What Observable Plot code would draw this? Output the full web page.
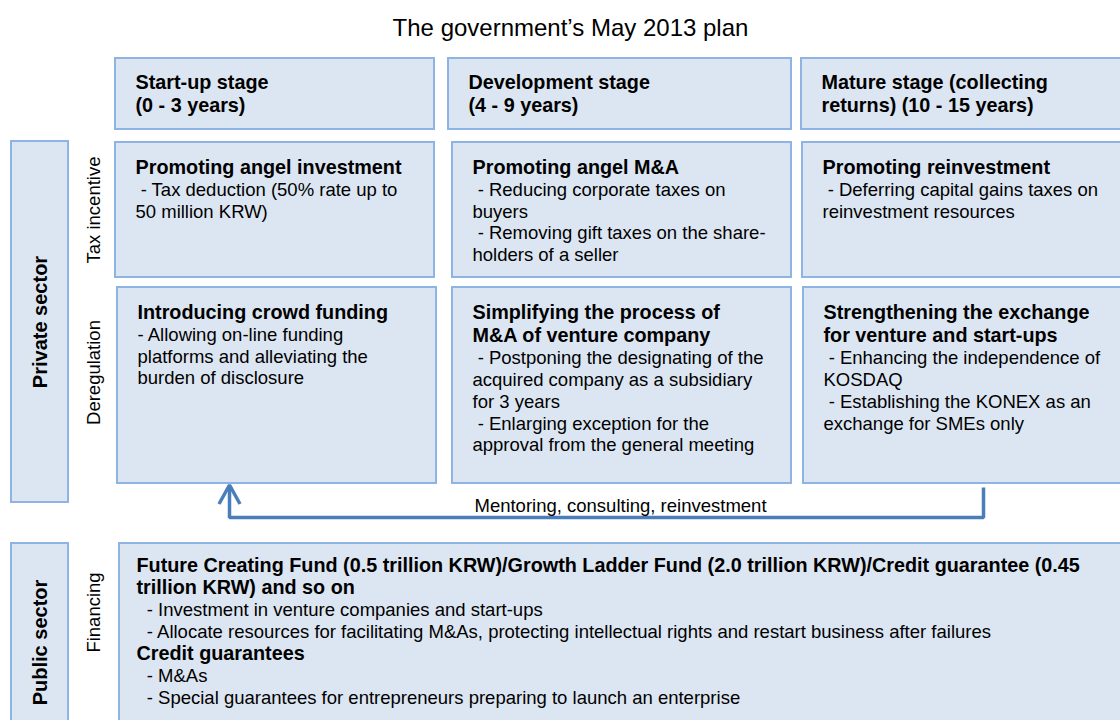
<!DOCTYPE html>
<html><head><meta charset="utf-8">
<script src="https://cdn.jsdelivr.net/npm/d3@7"></script>
<script src="https://cdn.jsdelivr.net/npm/@observablehq/plot@0.6"></script>
<style>
html,body{margin:0;padding:0;background:#fff;}
svg text{white-space:pre;}
</style></head><body><div id="chart"></div>
<script>
// ---- content ----
const title = "The government’s May 2013 plan";
const stages = ["Start-up stage\n(0 - 3 years)", "Development stage\n(4 - 9 years)", "Mature stage (collecting\nreturns) (10 - 15 years)"];
const sectors = ["Private sector", "Public sector"];
const policyTypes = ["Tax incentive", "Deregulation", "Financing"];
const taxHeads = ["Promoting angel investment", "Promoting angel M&A", "Promoting reinvestment"];
const taxBodies = [
  " - Tax deduction (50% rate up to\n50 million KRW)",
  " - Reducing corporate taxes on\nbuyers\n - Removing gift taxes on the share-\nholders of a seller",
  " - Deferring capital gains taxes on\nreinvestment resources"
];
const deregHeads = ["Introducing crowd funding", "Simplifying the process of\nM&A of venture company", "Strengthening the exchange\nfor venture and start-ups"];
const deregBodies = [
  "- Allowing on-line funding\nplatforms and alleviating the\nburden of disclosure",
  " - Postponing the designating of the\nacquired company as a subsidiary\nfor 3 years\n - Enlarging exception for the\napproval from the general meeting",
  " - Enhancing the independence of\nKOSDAQ\n - Establishing the KONEX as an\nexchange for SMEs only"
];
const feedbackLabel = "Mentoring, consulting, reinvestment";
const financingLines = [
  "Future Creating Fund (0.5 trillion KRW)/Growth Ladder Fund (2.0 trillion KRW)/Credit guarantee (0.45",
  "trillion KRW) and so on",
  "  - Investment in venture companies and start-ups",
  "  - Allocate resources for facilitating M&As, protecting intellectual rights and restart business after failures",
  "Credit guarantees",
  "  - M&As",
  "  - Special guarantees for entrepreneurs preparing to launch an enterprise"
];
const financingBold = [true, true, false, false, true, false, false];

// ---- layout ----
const W = 1120, H = 720;
const colX = {
  header: [[115, 434], [448, 791], [801, 1125]],
  tax:    [[115, 434], [452, 791], [802, 1125]],
  dereg:  [[117, 436], [452, 791], [803, 1125]]
};
const rowY = { header: [58, 129], tax: [142, 277], dereg: [287, 483], fin: [543, 745] };
const sectorX = [11, 68];
const finX = [119, 1125];
const labelX = 94;
const feedback = { fromX: 983, fromY: 487, toX: 229, lineY: 517, headLen: 19, headHalf: 10.5 };
const FILL = "#DCE6F2", STROKE = "#8EB4E3", ARROW = "#4A7EBB";
const HEAD_FS = 19.8, BODY_FS = 18.5, HEAD_LH = 23.3, BODY_LH = 21.8;

const cells = [];
[0, 1, 2].forEach(i => {
  cells.push({x1: colX.header[i][0], x2: colX.header[i][1], y1: rowY.header[0], y2: rowY.header[1], head: stages[i], body: "", top: 14});
  cells.push({x1: colX.tax[i][0], x2: colX.tax[i][1], y1: rowY.tax[0], y2: rowY.tax[1], head: taxHeads[i], body: taxBodies[i], top: 15});
  cells.push({x1: colX.dereg[i][0], x2: colX.dereg[i][1], y1: rowY.dereg[0], y2: rowY.dereg[1], head: deregHeads[i], body: deregBodies[i], top: 15});
});
const sectorBoxes = [
  {x1: sectorX[0], x2: sectorX[1], y1: rowY.tax[0] - 1, y2: 502, label: sectors[0]},
  {x1: sectorX[0], x2: sectorX[1], y1: rowY.fin[0], y2: rowY.fin[1], label: sectors[1]}
];
const finBox = [{x1: finX[0], x2: finX[1], y1: rowY.fin[0], y2: rowY.fin[1]}];
const typeLabels = [
  {t: policyTypes[0], y: (rowY.tax[0] + rowY.tax[1]) / 2},
  {t: policyTypes[1], y: 372},
  {t: policyTypes[2], y: 612}
];
const finRows = financingLines.map((t, i) => ({t, i, bold: financingBold[i]}));
const nLines = s => s.split("\n").length;
const headBase = c => c.y1 + c.top + 0.71 * HEAD_FS;
const bodyTop = c => headBase(c) + (nLines(c.head) - 1) * HEAD_LH + 22 - 0.71 * BODY_FS;
const tipY = rowY.dereg[1] + 1.5;
const pathPts = [
  {x: feedback.fromX, y: feedback.fromY},
  {x: feedback.fromX, y: feedback.lineY},
  {x: feedback.toX, y: feedback.lineY},
  {x: feedback.toX, y: tipY + 2}
];
const headPts = [
  {x: feedback.toX - feedback.headHalf, y: tipY + feedback.headLen},
  {x: feedback.toX, y: tipY},
  {x: feedback.toX + feedback.headHalf, y: tipY + feedback.headLen}
];

const chart = Plot.plot({
  width: W, height: H, margin: 0,
  x: {domain: [0, W], range: [0, W], axis: null},
  y: {domain: [0, H], range: [0, H], axis: null},
  style: {fontFamily: "'Liberation Sans', Arial, sans-serif", background: "#fff", color: "#000"},
  marks: [
    Plot.text([title], {x: 570, y: 35 - 0.71 * 24, text: d => d, fontSize: 24, lineAnchor: "top", textAnchor: "middle", fill: "#000"}),
    Plot.rect(cells, {x1: "x1", x2: "x2", y1: "y1", y2: "y2", fill: FILL, stroke: STROKE, strokeWidth: 2}),
    Plot.rect(sectorBoxes, {x1: "x1", x2: "x2", y1: "y1", y2: "y2", fill: FILL, stroke: STROKE, strokeWidth: 2}),
    Plot.rect(finBox, {x1: "x1", x2: "x2", y1: "y1", y2: "y2", fill: FILL, stroke: STROKE, strokeWidth: 2}),
    Plot.text(cells, {x: d => d.x1 + 20, y: d => d.y1 + d.top, text: "head", fontSize: HEAD_FS, fontWeight: "bold", lineHeight: HEAD_LH / HEAD_FS, lineAnchor: "top", textAnchor: "start", fill: "#000"}),
    Plot.text(cells.filter(d => d.body), {x: d => d.x1 + 20, y: bodyTop, text: "body", fontSize: BODY_FS, lineHeight: BODY_LH / BODY_FS, lineAnchor: "top", textAnchor: "start", fill: "#000"}),
    Plot.text(sectorBoxes, {x: d => (d.x1 + d.x2) / 2 + 1, y: d => (d.y1 + Math.min(d.y2, 741)) / 2, text: "label", rotate: -90, fontSize: 20, fontWeight: "bold", textAnchor: "middle", lineAnchor: "middle", fill: "#000"}),
    Plot.text(typeLabels, {x: labelX, y: "y", text: "t", rotate: -90, fontSize: BODY_FS, textAnchor: "middle", lineAnchor: "middle", fill: "#000"}),
    Plot.text(finRows.filter(d => d.bold), {x: finX[0] + 17, y: d => 571 + 22 * d.i - 0.71 * HEAD_FS, text: "t", fontSize: HEAD_FS, fontWeight: "bold", lineAnchor: "top", textAnchor: "start", fill: "#000"}),
    Plot.text(finRows.filter(d => !d.bold), {x: finX[0] + 17, y: d => 571 + 22 * d.i - 0.71 * BODY_FS, text: "t", fontSize: BODY_FS, lineAnchor: "top", textAnchor: "start", fill: "#000"}),
    Plot.line(pathPts, {x: "x", y: "y", stroke: ARROW, strokeWidth: 3.5, strokeLinejoin: "miter", strokeLinecap: "butt"}),
    Plot.line(headPts, {x: "x", y: "y", stroke: ARROW, strokeWidth: 3.5, strokeLinejoin: "miter", strokeLinecap: "butt"}),
    Plot.text([feedbackLabel], {x: 620, y: 511 - 0.71 * BODY_FS, text: d => d, fontSize: BODY_FS, lineAnchor: "top", textAnchor: "middle", fill: "#000"})
  ]
});
document.getElementById("chart").appendChild(chart);
</script></body></html>
